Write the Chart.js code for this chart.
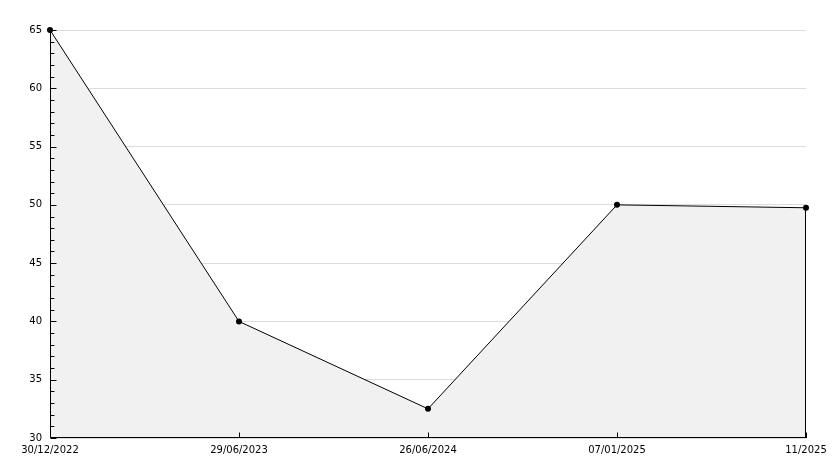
<!DOCTYPE html>
<html>
<head>
<meta charset="utf-8">
<script src="https://cdn.jsdelivr.net/npm/chart.js@4/dist/chart.umd.min.js"></script>
<style>
  html, body { margin: 0; padding: 0; background: #fff; }
  #wrap { width: 834px; height: 468px; }
</style>
</head>
<body>
<div id="wrap"><canvas id="grafica" width="834" height="468"></canvas></div>
<script>
// Datos de la grafica
const etiquetas = ['30/12/2022', '29/06/2023', '26/06/2024', '07/01/2025', '11/2025'];
const valores = [65, 40, 32.5, 50, 49.75];
const yMin = 30;
const yMax = 65;
const yPaso = 5;

// Ejes, marcas menores y mayores hacia dentro, y el borde derecho del relleno
// (se dibujan despues del relleno para que no queden tapados)
const marcasInternas = {
    id: 'marcasInternas',
    afterDatasetsDraw(chart) {
        const ctx = chart.ctx;
        const area = chart.chartArea;
        const x = chart.scales.x;
        const y = chart.scales.y;
        const izq = Math.round(area.left) + 0.5;
        const abajo = Math.round(area.bottom) - 0.5;
        ctx.save();
        ctx.strokeStyle = '#000';
        ctx.lineWidth = 1;
        ctx.beginPath();
        // lineas de los ejes
        ctx.moveTo(izq, area.top - 1);
        ctx.lineTo(izq, abajo);
        ctx.lineTo(area.right + 1, abajo);
        // eje y: cada unidad una marca menor, cada 5 una mayor
        for (let v = yMin; v <= yMax; v++) {
            const py = Math.round(y.getPixelForValue(v)) + 0.5;
            const largo = (v % yPaso === 0) ? 6 : 4;
            ctx.moveTo(izq, py);
            ctx.lineTo(izq + largo, py);
        }
        // eje x: una marca por categoria
        etiquetas.forEach((e, i) => {
            const px = Math.round(x.getPixelForValue(i)) + 0.5;
            ctx.moveTo(px, abajo);
            ctx.lineTo(px, abajo - 5);
        });
        // linea vertical desde el ultimo punto hasta el eje
        const ult = valores.length - 1;
        const pxUlt = Math.round(x.getPixelForValue(ult)) - 0.5;
        ctx.moveTo(pxUlt, y.getPixelForValue(valores[ult]));
        ctx.lineTo(pxUlt, abajo);
        ctx.stroke();
        ctx.restore();
    }
};

const fuente = { family: 'DejaVu Sans', size: 10 };

new Chart(document.getElementById('grafica').getContext('2d'), {
    type: 'line',
    data: {
        labels: etiquetas,
        datasets: [{
            data: valores,
            borderColor: '#000',
            borderWidth: 1,
            backgroundColor: '#f1f1f1',
            fill: 'start',
            tension: 0,
            clip: false,
            pointRadius: 3,
            pointBackgroundColor: '#000',
            pointBorderColor: '#000',
            pointBorderWidth: 0
        }]
    },
    options: {
        responsive: false,
        animation: false,
        layout: { padding: { top: 30, right: 28, left: 0, bottom: 0 } },
        plugins: {
            legend: { display: false },
            tooltip: { enabled: false }
        },
        scales: {
            x: {
                offset: false,
                grid: { display: false, drawTicks: false },
                border: { display: false },
                ticks: {
                    color: '#000',
                    font: fuente,
                    autoSkip: false,
                    maxRotation: 0,
                    padding: 6
                },
                afterFit(scale) { scale.height = 30; }
            },
            y: {
                min: yMin,
                max: yMax,
                grid: { color: '#dcdcdc', drawTicks: false },
                border: { display: false },
                ticks: {
                    stepSize: yPaso,
                    color: '#000',
                    font: fuente,
                    padding: 8
                },
                afterFit(scale) { scale.width = 50; }
            }
        }
    },
    plugins: [marcasInternas]
});
</script>
</body>
</html>
